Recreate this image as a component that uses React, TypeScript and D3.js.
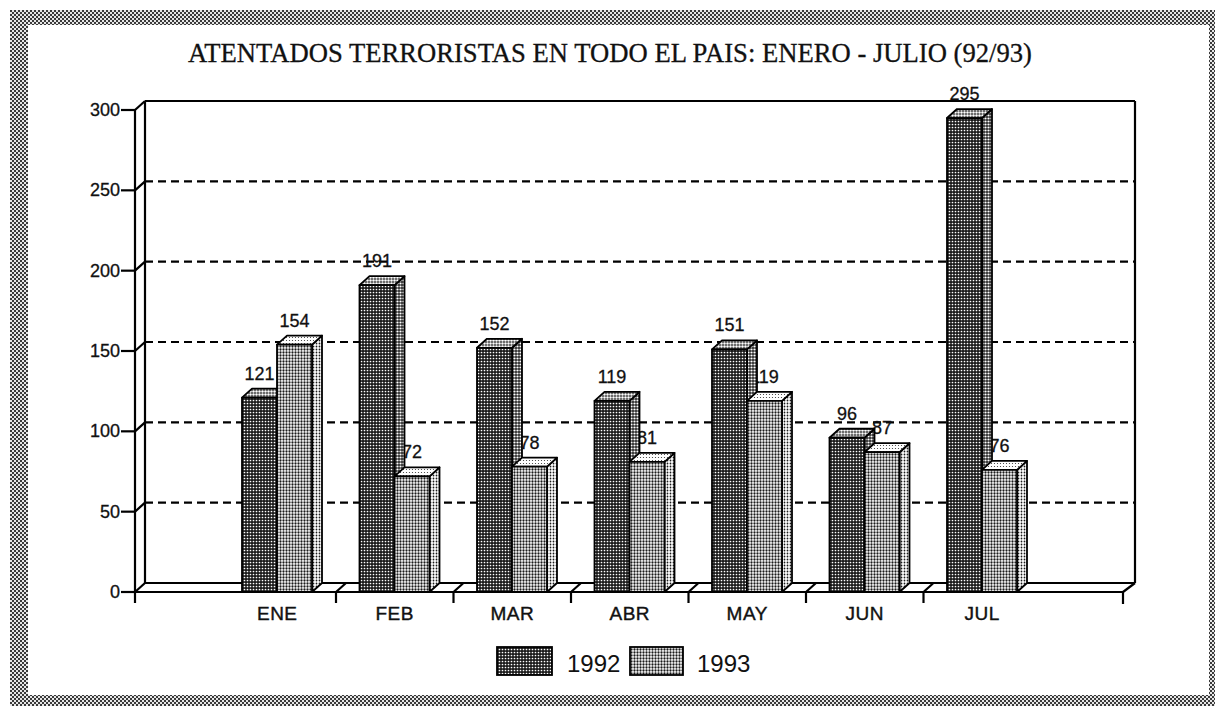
import React from 'react';
import * as d3 from 'd3';

const months = ['ENE', 'FEB', 'MAR', 'ABR', 'MAY', 'JUN', 'JUL'];
const values1992 = [121, 191, 152, 119, 151, 96, 295];
const values1993 = [154, 72, 78, 81, 119, 87, 76];
const yTicks = [0, 50, 100, 150, 200, 250, 300];
const seriesNames = ['1992', '1993'];
const title = 'ATENTADOS TERRORISTAS EN TODO EL PAIS: ENERO - JULIO (92/93)';

const W = 1215;
const H = 706;
const DX = 10;
const DY = 9;
const frontLeft = 135;
const frontRight = 1123;
const baseY = 592;

const y = d3.scaleLinear().domain([0, 300]).range([baseY, 110]);
const x = d3.scaleBand<string>().domain(months).range([218.5, 1041]).paddingInner(0).paddingOuter(0);

const sans = '"Liberation Sans", Arial, Helvetica, sans-serif';
const serif = '"Liberation Serif", "Times New Roman", serif';

function Bar({ x0, w, v, front, side, top }: { x0: number; w: number; v: number; front: string; side: string; top: string }) {
  const yt = y(v);
  const backBase = baseY - DY;
  return (
    <g stroke="#000" strokeWidth={1.8} strokeLinejoin="round">
      <polygon points={`${x0 + w},${yt} ${x0 + w + DX},${yt - DY} ${x0 + w + DX},${backBase} ${x0 + w},${baseY}`} fill={`url(#${side})`} />
      <polygon points={`${x0},${yt} ${x0 + DX},${yt - DY} ${x0 + w + DX},${yt - DY} ${x0 + w},${yt}`} fill={`url(#${top})`} />
      <rect x={x0} y={yt} width={w} height={baseY - yt} fill={`url(#${front})`} />
    </g>
  );
}

function DotPattern({ id, bg, dot, r, size = 3 }: { id: string; bg: string; dot: string; r: number; size?: number }) {
  return (
    <pattern id={id} width={size} height={size} patternUnits="userSpaceOnUse">
      <rect width={size} height={size} fill={bg} />
      <circle cx={size / 2} cy={size / 2} r={r} fill={dot} />
    </pattern>
  );
}

export default function App() {
  const bw = 35;
  const groupOffset = 23.5;
  const bandW = x.bandwidth();
  return (
    <svg width={W} height={H} style={{ position: 'absolute', left: 0, top: 0, background: '#fff' }}>
      <defs>
        <pattern id="border" width={4} height={4} patternUnits="userSpaceOnUse">
          <rect width={4} height={4} fill="#e6e6e6" />
          <rect x={0} y={0} width={2} height={2} fill="#3a3a3a" />
          <rect x={2} y={2} width={2} height={2} fill="#3a3a3a" />
        </pattern>
        <DotPattern id="darkFront" bg="#1c1c1c" dot="#ffffff" r={0.85} />
        <DotPattern id="darkSide" bg="#2a2a2a" dot="#ffffff" r={1.1} />
        <DotPattern id="darkTop" bg="#3a3a3a" dot="#ffffff" r={1.2} />
        <DotPattern id="lightFront" bg="#ffffff" dot="#1a1a1a" r={1.15} />
        <DotPattern id="lightSide" bg="#ffffff" dot="#1a1a1a" r={0.9} />
        <DotPattern id="lightTop" bg="#ffffff" dot="#333333" r={0.6} />
      </defs>

      {/* frame */}
      <rect x={10} y={10} width={W - 10} height={H - 10} fill="url(#border)" />
      <rect x={28} y={25} width={1181} height={670} fill="#fff" />

      {/* title */}
      <text x={610} y={62} textAnchor="middle" fontFamily={serif} fontSize={27} fill="#111" stroke="#111" strokeWidth={0.3} textLength={844} lengthAdjust="spacingAndGlyphs">
        {title}
      </text>

      {/* back wall and gridlines */}
      <g stroke="#000" strokeWidth={2.2} fill="none">
        {yTicks.filter((t) => t > 0 && t < 300).map((t) => (
          <line key={`g${t}`} x1={frontLeft + DX} x2={frontRight + DX + 2} y1={y(t) - DY} y2={y(t) - DY} strokeDasharray="8,5" />
        ))}
        <line x1={frontLeft + DX} x2={frontRight + DX + 2} y1={y(300) - DY} y2={y(300) - DY} />
        <line x1={frontRight + DX + 2} x2={frontRight + DX + 2} y1={y(300) - DY} y2={baseY - DY} />
        <line x1={frontLeft + DX} x2={frontLeft + DX} y1={y(300) - DY} y2={baseY - DY} />
        <line x1={frontLeft} x2={frontLeft} y1={y(300)} y2={baseY + 11} />
        {yTicks.map((t) => (
          <g key={`t${t}`}>
            <line x1={121} x2={frontLeft} y1={y(t)} y2={y(t)} />
            <line x1={frontLeft} x2={frontLeft + DX} y1={y(t)} y2={y(t) - DY} />
          </g>
        ))}
        {/* floor */}
        <line x1={frontLeft} x2={frontRight} y1={baseY} y2={baseY} />
        <line x1={frontLeft + DX} x2={frontRight + DX + 2} y1={baseY - DY} y2={baseY - DY} />
        <line x1={frontRight} x2={frontRight + DX + 2} y1={baseY} y2={baseY - DY} />
        <line x1={frontRight} x2={frontRight} y1={baseY} y2={baseY + 12} />
        {months.slice(1).map((m) => {
          const bx = x(m)!;
          return (
            <g key={`d${m}`}>
              <line x1={bx} x2={bx + DX} y1={baseY} y2={baseY - DY} />
              <line x1={bx} x2={bx} y1={baseY} y2={baseY + 11} />
            </g>
          );
        })}
      </g>

      {/* y tick labels */}
      <g fontFamily={sans} fontSize={18} fill="#111" stroke="#111" strokeWidth={0.3} textAnchor="end">
        {yTicks.map((t) => (
          <text key={`l${t}`} x={120} y={y(t) + 6}>{t}</text>
        ))}
      </g>

      {/* value labels (behind bars) */}
      <g fontFamily={sans} fontSize={18} fill="#111" stroke="#111" strokeWidth={0.3} textAnchor="middle">
        {months.map((m, i) => {
          const x0 = x(m)! + groupOffset;
          return (
            <g key={`v${m}`}>
              <text x={x0 + bw / 2} y={y(values1992[i]) - DY - 9}>{values1992[i]}</text>
              <text x={x0 + bw + bw / 2} y={y(values1993[i]) - DY - 9}>{values1993[i]}</text>
            </g>
          );
        })}
      </g>

      {/* bars */}
      {months.map((m, i) => {
        const x0 = x(m)! + groupOffset;
        return (
          <g key={`b${m}`}>
            <Bar x0={x0} w={bw} v={values1992[i]} front="darkFront" side="darkSide" top="darkTop" />
            <Bar x0={x0 + bw} w={bw} v={values1993[i]} front="lightFront" side="lightSide" top="lightTop" />
          </g>
        );
      })}

      {/* month labels */}
      <g fontFamily={sans} fontSize={19} fill="#111" stroke="#111" strokeWidth={0.4} textAnchor="middle">
        {months.map((m) => (
          <text key={`m${m}`} x={x(m)! + bandW / 2} y={620} letterSpacing={0.5}>{m}</text>
        ))}
      </g>

      {/* legend */}
      <g>
        <rect x={497} y={647} width={55} height={28} fill="url(#darkFront)" stroke="#000" strokeWidth={1.8} />
        <text x={567} y={672} fontFamily={sans} fontSize={24} fill="#111">{seriesNames[0]}</text>
        <rect x={630} y={647} width={53} height={28} fill="url(#lightFront)" stroke="#000" strokeWidth={1.8} />
        <text x={697} y={672} fontFamily={sans} fontSize={24} fill="#111">{seriesNames[1]}</text>
      </g>
    </svg>
  );
}
